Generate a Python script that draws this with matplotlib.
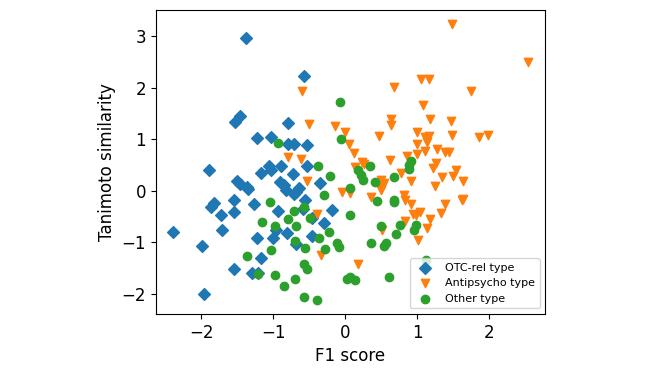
import numpy as np
import matplotlib
matplotlib.use("Agg")
import matplotlib.pyplot as plt

# OTC-rel type (blue diamonds)
otc_x = [-1.38, -0.58, -1.47, -1.53, -0.80, -1.23, -1.03, -0.80, -0.71, -0.53,
         -1.89, -1.06, -0.90, -1.03, -1.17, -0.73, -0.53, -1.50, -1.47, -1.37,
         -1.36, -0.91, -0.86, -0.82, -0.69, -0.64, -0.71, -0.36, -0.56, -1.55,
         -1.82, -1.87, -1.27, -1.55, -1.73, -0.94, -0.59, -0.19, -0.46, -0.30,
         -1.71, -0.97, -0.81, -2.39, -1.23, -1.00, -0.47, -0.69, -1.99, -1.17,
         -1.55, -1.30, -1.21, -1.96]
otc_y = [2.97, 2.23, 1.45, 1.34, 1.32, 1.03, 1.04, 0.90, 0.90, 0.89,
         0.40, 0.48, 0.48, 0.41, 0.34, 0.33, 0.48, 0.19, 0.14, 0.08,
         0.03, 0.17, 0.11, 0.01, -0.02, 0.05, -0.06, 0.15, -0.17, -0.18,
         -0.23, -0.32, -0.25, -0.41, -0.47, -0.40, -0.36, -0.38, -0.52, -0.63,
         -0.75, -0.76, -0.81, -0.80, -0.91, -0.92, -0.88, -1.03, -1.06, -1.30,
         -1.52, -1.60, -1.59, -2.00]

# Antipsycho type (orange triangles)
anti_x = [1.48, 2.53, -0.61, 0.67, 1.05, 1.16, 1.75, 1.08, -0.51, -0.14,
          0.00, 0.63, 0.64, 1.18, 1.47, 0.46, 0.99, 1.11, 1.16, 1.48,
          1.85, 1.98, 0.05, 0.12, 1.00, 1.14, 1.27, 1.39, 1.44, 1.11,
          0.85, 1.00, -0.80, -0.62, 0.23, 0.26, 0.13, 0.62, 1.26, 1.22,
          1.53, 0.77, 1.34, 1.49, 0.91, 0.49, 0.54, 0.51, -0.54, 1.64,
          1.25, -0.05, 0.07, 0.50, 0.81, 0.36, 0.83, 1.64, 1.62, 0.91,
          1.39, -0.39, 0.94, 1.04, 0.98, 1.33, 1.17, 0.83, 1.13, 0.51,
          1.01, -0.34, 0.18]
anti_y = [3.24, 2.50, 1.93, 2.02, 2.17, 2.17, 1.94, 1.66, 1.29, 1.25,
          1.14, 1.40, 1.27, 1.40, 1.36, 1.07, 1.14, 1.04, 1.07, 1.08,
          1.05, 1.09, 0.91, 0.74, 0.90, 0.95, 0.82, 0.76, 0.76, 0.77,
          0.68, 0.71, 0.65, 0.61, 0.56, 0.53, 0.46, 0.59, 0.55, 0.45,
          0.41, 0.34, 0.26, 0.28, 0.19, 0.21, 0.15, 0.08, 0.19, 0.19,
          0.10, -0.02, -0.05, 0.01, -0.08, -0.12, -0.18, -0.15, -0.18, -0.25,
          -0.26, -0.44, -0.44, -0.41, -0.47, -0.43, -0.55, -0.58, -0.72, -0.76,
          -0.95, -1.25, -1.41]

# Other type (green circles)
other_x = [-0.08, -0.06, -0.93, -0.38, -0.22, 0.34, 0.17, 0.21, 0.25, 0.41,
           0.67, 0.91, 0.89, 0.89, 0.07, -0.30, 0.44, 0.68, 0.68, -1.05,
           -0.58, -0.72, 0.07, -0.49, -0.80, -1.16, -0.98, -0.69, -0.23, 0.50,
           0.70, 0.76, 0.98, 0.95, -0.37, -0.70, -0.11, -0.09, -0.56, -0.29,
           0.36, 0.57, 0.54, -1.04, -1.37, -0.58, -0.54, -1.21, -0.98, -0.70,
           0.02, 0.07, 0.13, 0.61, -0.86, -0.58, -0.39, 1.12]
other_y = [1.72, 1.01, 0.93, 0.48, 0.28, 0.48, 0.40, 0.30, 0.21, 0.17,
           0.27, 0.57, 0.50, 0.43, 0.05, -0.08, -0.19, -0.17, -0.21, -0.22,
           -0.31, -0.39, -0.46, -0.52, -0.55, -0.60, -0.68, -0.68, -0.79, -0.68,
           -0.84, -0.67, -0.66, -0.76, -0.92, -0.97, -1.02, -1.08, -1.10, -1.12,
           -1.01, -1.02, -1.07, -1.15, -1.26, -1.41, -1.52, -1.62, -1.63, -1.71,
           -1.70, -1.68, -1.73, -1.68, -1.85, -2.05, -2.12, -1.34]

fig = plt.figure(figsize=(6.46, 3.72), dpi=100)
ax = fig.add_axes([0.241, 0.156, 0.603, 0.817])

ax.scatter(otc_x, otc_y, marker='D', color='tab:blue', label='OTC-rel type')
ax.scatter(anti_x, anti_y, marker='v', color='tab:orange', label='Antipsycho type')
ax.scatter(other_x, other_y, marker='o', color='tab:green', label='Other type')

ax.set_xlabel('F1 score', fontsize=12)
ax.set_ylabel('Tanimoto similarity', fontsize=12)
ax.tick_params(labelsize=12)
ax.legend(loc='lower right', fontsize=8)

fig.savefig('out.png')
